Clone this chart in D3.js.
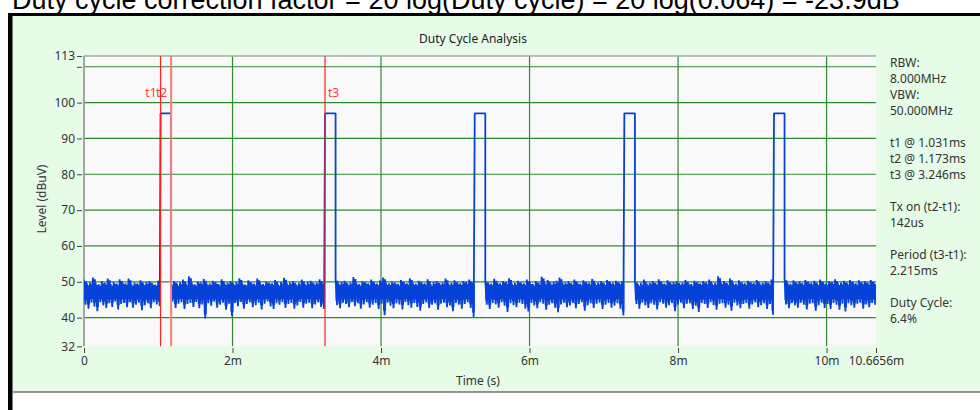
<!DOCTYPE html>
<html>
<head>
<meta charset="utf-8">
<script src="https://cdn.jsdelivr.net/npm/d3@7"></script>
<style>
  body { margin: 0; background: #fff; }
  svg { display: block; font-family: "Segoe UI", "Noto Sans", sans-serif; }
</style>
</head>
<body>
<svg id="chart" width="980" height="410"></svg>
<script>
// ---- data ----
const caption = 'Duty cycle correction factor = 20 log(Duty cycle) = 20 log(0.064) = -23.9dB';
const xTicks = [0, 2, 4, 6, 8, 10, 10.6656];
const yTicks = [32, 40, 50, 60, 70, 80, 90, 100, 110, 113];
const gridY = [40, 50, 60, 70, 80, 90, 100, 110];
const gridX = [2, 4, 6, 8, 10];

// pulses (ms) and level (dBuV)
const pulseStart = [1.031, 3.246, 5.262, 7.277, 9.292];
const pulseEnd = [1.173, 3.388, 5.404, 7.419, 9.434];
const pulseLevel = 97;

// noise segments between pulses, 0.04 ms bins: upper / lower excursion per bin
const segStart = [0, 1.173, 3.388, 5.404, 7.419, 9.434];
const segEnd = [1.031, 3.246, 5.262, 7.277, 9.292, 10.6656];
const binWidth = 0.04;
const noiseHigh = [
  50.6, 49.5, 49.8, 51.2, 49.6, 49.3, 50.1, 49.7, 50.9, 49.4, 49.9, 49.5, 50.7, 49.8, 49.6, 50.9, 49.3, 49.8, 49.6, 50.4, 49.5, 49.9, 50.2, 49.6, 49.2, 50.3,
  49.7, 50.2, 49.4, 49.8, 50.6, 49.5, 51.5, 49.7, 49.3, 50.1, 49.8, 50.8, 49.5, 49.6, 50.3, 49.9, 49.4, 50.7, 49.6, 49.8, 50.2, 49.5, 49.9, 51.0, 49.6, 49.3,
  50.4, 49.8, 49.5, 50.9, 49.7, 49.4, 50.1, 49.8, 49.6, 50.5, 49.3, 49.9, 51.1, 49.6, 49.8, 50.2, 49.4, 49.7, 50.6, 49.5, 49.9, 50.3, 49.6, 49.8, 50.7, 49.5,
  50.8, 49.6, 49.9, 50.3, 49.5, 49.8, 51.3, 49.7, 49.4, 50.2, 49.9, 49.6, 50.6, 49.8, 49.5, 50.4, 51.2, 49.7, 49.6, 50.1, 49.8, 49.4, 50.5, 49.9, 49.6, 51.0,
  49.7, 49.5, 50.3, 49.8, 49.6, 50.7, 49.4, 49.9, 50.2, 49.6, 49.8, 50.9, 49.5, 49.7, 50.4, 49.8, 49.6, 50.2, 49.9, 50.6, 49.7,
  50.4, 49.7, 49.5, 50.8, 49.8, 49.6, 50.2, 49.9, 51.0, 49.5, 49.7, 50.3, 49.8, 49.6, 50.6, 49.9, 49.4, 50.2, 49.7, 51.4, 49.8, 50.5, 49.6, 49.9, 50.3, 51.2,
  49.7, 49.8, 50.1, 49.6, 50.6, 49.8, 49.5, 50.4, 49.9, 49.7, 50.8, 49.6, 49.8, 50.2, 49.5, 50.5, 49.9, 49.7, 50.3, 49.8, 50.1,
  50.3, 49.4, 49.7, 50.6, 49.5, 49.8, 50.2, 49.6, 50.7, 49.8, 49.5, 50.4, 49.7, 49.9, 50.1, 49.6, 49.8, 50.5, 49.7, 49.4, 50.3, 49.9, 49.6, 50.2, 49.8, 50.6,
  49.5, 49.7, 51.5, 49.8, 50.2, 49.6, 50.9, 49.7, 49.5, 50.4, 49.8, 49.6, 50.3, 49.9, 49.7, 50.5, 49.6, 49.8, 50.2, 49.7, 50.6,
  50.9, 49.7, 49.5, 50.4, 49.8, 50.1, 49.6, 50.5, 49.9, 49.7, 50.3, 49.5, 50.6, 49.8, 49.6, 50.2, 49.9, 50.7, 49.6, 49.8, 50.3, 49.7, 50.5, 49.9, 49.6, 50.4,
  49.8, 50.2, 49.7, 50.5, 49.9
];
const noiseLow = [
  43.6, 42.5, 44.2, 43.1, 41.8, 44.3, 43.4, 42.7, 44.0, 43.0, 44.5, 42.3, 43.8, 44.1, 42.9, 44.4, 42.8, 43.6, 44.2, 42.1, 43.5, 44.0, 42.6, 44.3, 43.7, 43.2,
  44.5, 42.7, 43.9, 44.3, 42.4, 43.8, 44.1, 43.0, 44.4, 42.6, 43.7, 39.8, 44.0, 43.3, 44.5, 42.8, 43.6, 44.2, 42.2, 43.9, 40.4, 44.1, 43.2, 44.4, 42.5, 43.8,
  44.3, 42.9, 43.5, 44.2, 42.3, 43.9, 44.5, 43.1, 42.4, 44.0, 43.6, 44.3, 42.7, 43.8, 44.1, 42.5, 43.4, 44.4, 42.8, 43.9, 44.2, 42.6, 43.7, 44.3, 43.0, 42.4,
  43.5, 42.6, 44.2, 43.8, 42.9, 44.4, 43.2, 44.0, 42.5, 43.7, 44.3, 42.8, 43.6, 44.1, 42.4, 43.9, 40.7, 44.2, 43.3, 42.6, 44.0, 43.7, 42.3, 44.4, 43.5, 42.8,
  44.1, 43.0, 41.9, 43.8, 44.3, 42.7, 43.6, 44.0, 42.2, 43.9, 44.2, 42.9, 43.4, 41.8, 44.1, 43.6, 42.5, 43.8, 44.3, 42.7, 40.2,
  43.6, 42.4, 44.1, 43.7, 42.8, 44.3, 43.3, 41.6, 44.0, 43.5, 42.9, 44.2, 43.8, 42.5, 41.7, 44.1, 43.4, 42.6, 44.3, 43.9, 42.2, 43.6, 44.0, 42.8, 41.5, 43.7,
  44.2, 42.9, 43.4, 44.1, 42.6, 43.8, 44.3, 41.9, 43.5, 44.0, 42.7, 43.9, 44.2, 42.4, 43.6, 44.1, 42.8, 43.3, 44.0, 42.5, 40.6,
  43.8, 42.5, 44.2, 43.4, 42.7, 44.0, 43.6, 42.3, 44.3, 43.9, 42.8, 43.5, 44.1, 41.8, 43.7, 44.2, 42.6, 43.9, 44.0, 42.4, 43.3, 41.6, 44.1, 43.8, 42.7, 44.3,
  43.5, 42.2, 43.9, 44.0, 42.8, 43.6, 41.9, 44.2, 43.4, 42.6, 43.8, 44.1, 42.5, 43.7, 44.3, 42.9, 43.5, 44.0, 42.4, 43.8, 40.8,
  43.7, 42.6, 44.1, 43.4, 42.8, 44.2, 43.6, 42.3, 43.9, 44.0, 41.9, 43.5, 44.2, 42.7, 43.8, 42.4, 44.1, 43.6, 42.2, 43.9, 41.7, 44.0, 43.5, 42.8, 43.9, 44.2,
  42.5, 43.7, 42.9, 44.1, 43.6
];

// markers
const markerNames = ['t1', 't2', 't3'];
const markerTimes = [1.031, 1.173, 3.246];

const infoLines = [
  'RBW:', '8.000MHz', 'VBW:', '50.000MHz', '',
  't1 @ 1.031ms', 't2 @ 1.173ms', 't3 @ 3.246ms', '',
  'Tx on (t2-t1):', '142us', '',
  'Period (t3-t1):', '2.215ms', '',
  'Duty Cycle:', '6.4%'
];

// ---- build the trace ----
const trace = [];
const bands = [];
let k = 0;
segStart.forEach((s, i) => {
  const n = Math.round((segEnd[i] - s) / binWidth);
  const band = [];
  for (let j = 0; j < n && k < noiseHigh.length; j++, k++) {
    const t = s + j * binWidth;
    trace.push([t, noiseHigh[k]]);
    trace.push([t + binWidth / 2, noiseLow[k]]);
    band.push({ t, hi: noiseHigh[k], lo: noiseLow[k] });
  }
  if (band.length) {
    const last = band[band.length - 1];
    band.push({ t: Math.min(last.t + binWidth, segEnd[i]), hi: last.hi, lo: last.lo });
    bands.push(band);
  }
  if (i < pulseStart.length) {
    trace.push([pulseStart[i], pulseLevel]);
    trace.push([pulseEnd[i], pulseLevel]);
  }
});

// ---- drawing ----
const svg = d3.select('#chart');

const x = d3.scaleLinear().domain([0, 10.6656]).range([84, 876]);
const y = d3.scaleLinear().domain([32, 113]).range([346.3, 56]);

const traceColor = '#0642d8';

// frame + panel
svg.append('rect').attr('x', 12).attr('y', 16).attr('width', 968).attr('height', 376).attr('fill', '#e6fce6');
svg.append('line').attr('x1', 13).attr('x2', 980).attr('y1', 392).attr('y2', 392)
  .attr('stroke', '#707070').attr('stroke-width', 1.5);
svg.append('rect').attr('x', 8).attr('y', 13).attr('width', 972).attr('height', 3).attr('fill', '#000');
svg.append('rect').attr('x', 8).attr('y', 13).attr('width', 4.5).attr('height', 397).attr('fill', '#000');

// caption (cut by the top edge, as in the source)
svg.append('text')
  .attr('x', 12)
  .attr('y', 8.5)
  .text(caption)
  .style('font-family', '"Liberation Sans", Arial, sans-serif')
  .style('font-size', '27px')
  .style('fill', '#000');

// plot background
svg.append('rect')
  .attr('x', x(0)).attr('y', y(113))
  .attr('width', x(10.6656) - x(0)).attr('height', y(32) - y(113))
  .attr('fill', '#f9f9f9');

// grid
svg.append('g').selectAll('line')
  .data(gridY)
  .join('line')
  .attr('x1', x(0)).attr('x2', x(10.6656))
  .attr('y1', d => y(d)).attr('y2', d => y(d))
  .attr('stroke', '#2e8b2e').attr('stroke-width', 1.2);

svg.append('g').selectAll('line')
  .data(gridX)
  .join('line')
  .attr('x1', d => x(d)).attr('x2', d => x(d))
  .attr('y1', y(113)).attr('y2', y(32))
  .attr('stroke', '#2e8b2e').attr('stroke-width', 1.2);

// top border + left axis line
svg.append('line')
  .attr('x1', x(0)).attr('x2', x(10.6656)).attr('y1', y(113)).attr('y2', y(113))
  .attr('stroke', '#a8a8a8').attr('stroke-width', 1.5);
svg.append('line')
  .attr('x1', x(0)).attr('x2', x(0)).attr('y1', y(113)).attr('y2', y(32))
  .attr('stroke', '#8a8a8a').attr('stroke-width', 1.5);

// trace
svg.append('clipPath').attr('id', 'plotClip')
  .append('rect')
  .attr('x', x(0)).attr('y', y(113))
  .attr('width', x(10.6656) - x(0)).attr('height', y(32) - y(113));

const plot = svg.append('g').attr('clip-path', 'url(#plotClip)');

// dense core of the noise band
const core = d3.area()
  .x(d => x(d.t))
  .y0(d => y(Math.min(d.lo + 1.2, 45.2)))
  .y1(d => y(Math.max(d.hi - 0.5, 48.9)))
  .curve(d3.curveStepAfter);

plot.selectAll('.core')
  .data(bands)
  .join('path')
  .attr('class', 'core')
  .attr('fill', traceColor)
  .attr('d', core);

const line = d3.line()
  .x(d => x(d[0]))
  .y(d => y(d[1]));

plot.append('path')
  .datum(trace)
  .attr('fill', 'none')
  .attr('stroke', traceColor)
  .attr('stroke-width', 1.8)
  .attr('stroke-linejoin', 'bevel')
  .attr('d', line);

// markers
markerTimes.forEach((t, i) => {
  svg.append('line')
    .attr('x1', x(t)).attr('x2', x(t))
    .attr('y1', y(113)).attr('y2', y(32))
    .attr('stroke', i === 1 ? '#ff7a7a' : '#ff2020')
    .attr('stroke-width', i === 1 ? 2 : 1.2);
});

svg.append('g').selectAll('text')
  .data(markerNames)
  .join('text')
  .attr('x', (d, i) => i === 2 ? x(markerTimes[i]) + 3 : x(markerTimes[i]) - 4)
  .attr('y', 93)
  .attr('dy', '0.35em')
  .attr('text-anchor', (d, i) => i === 2 ? 'start' : 'end')
  .text(d => d)
  .style('font-size', '12px')
  .style('fill', '#ff3a3a');

// axes
const yAxis = d3.axisLeft(y)
  .tickValues(yTicks)
  .tickSize(5)
  .tickPadding(2)
  .tickFormat(d => d === 110 ? '' : d);

svg.append('g')
  .attr('transform', 'translate(82,0)')
  .call(yAxis)
  .call(g => g.select('.domain').remove())
  .call(g => g.selectAll('line').attr('stroke', '#444'))
  .call(g => g.selectAll('text').style('fill', '#333').style('font-size', '12px'))
  .style('font-family', '"Segoe UI", "Noto Sans", sans-serif');

const xAxis = d3.axisBottom(x)
  .tickValues(xTicks)
  .tickSize(5)
  .tickPadding(3)
  .tickFormat(d => d === 0 ? '0' : d + 'm');

svg.append('g')
  .attr('transform', 'translate(0,348)')
  .call(xAxis)
  .call(g => g.select('.domain').remove())
  .call(g => g.selectAll('line').attr('stroke', '#444'))
  .call(g => g.selectAll('text').style('fill', '#333').style('font-size', '12px'))
  .style('font-family', '"Segoe UI", "Noto Sans", sans-serif');

// titles
svg.append('text')
  .attr('x', 473).attr('y', 39).attr('dy', '0.35em')
  .attr('text-anchor', 'middle')
  .text('Duty Cycle Analysis')
  .style('font-size', '12px').style('fill', '#222');

svg.append('text')
  .attr('x', 478).attr('y', 381).attr('dy', '0.35em')
  .attr('text-anchor', 'middle')
  .text('Time (s)')
  .style('font-size', '12px').style('fill', '#333');

svg.append('text')
  .attr('transform', 'translate(42,199) rotate(-90)')
  .attr('dy', '0.35em')
  .attr('text-anchor', 'middle')
  .text('Level (dBuV)')
  .style('font-size', '12px').style('fill', '#333');

// right-hand info block
const info = svg.append('g').attr('transform', 'translate(890,0)');
let yy = 63;
infoLines.forEach(s => {
  if (s === '') { yy += 16.5; return; }
  info.append('text')
    .attr('x', 0).attr('y', yy).attr('dy', '0.35em')
    .text(s)
    .style('font-size', '12px').style('fill', '#333');
  yy += 15.8;
});
</script>
</body>
</html>
